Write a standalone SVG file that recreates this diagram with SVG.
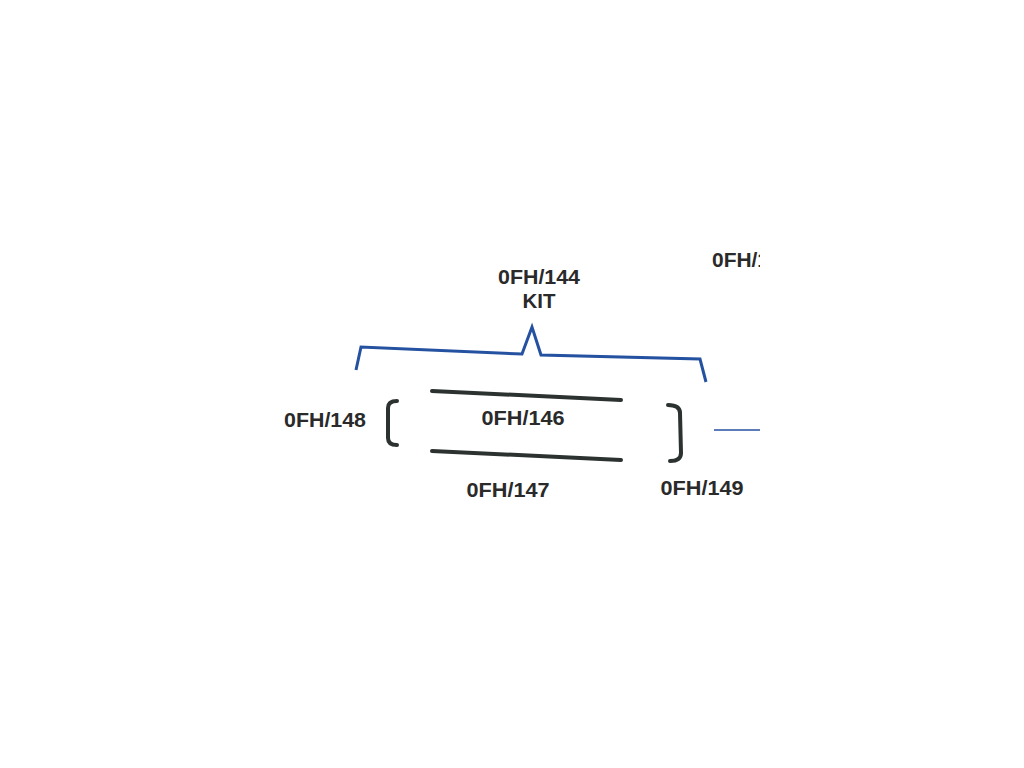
<svg xmlns="http://www.w3.org/2000/svg" width="1024" height="768" viewBox="0 0 1024 768">
<style>
.lbl{font-family:"Liberation Sans",Arial,sans-serif;font-weight:bold;font-size:20px;fill:#2a2a2a;text-anchor:middle}
.blue{fill:none;stroke:#2451a0;stroke-width:3;stroke-linejoin:miter}
.part{fill:none;stroke:#2b3230;stroke-width:4;stroke-linecap:round;stroke-linejoin:round}
</style>
<defs><clipPath id="clip"><rect x="0" y="0" width="760" height="768"/></clipPath></defs>
<rect width="1024" height="768" fill="#fff"/>
<g id="kit">
<path class="blue" d="M356,370 L361,347 L522,354 L532,327 L541,355 L700,359 L706,382"/>
<text class="lbl" x="539" y="284" textLength="82" lengthAdjust="spacingAndGlyphs">0FH/144</text>
<text class="lbl" x="539" y="308" textLength="33" lengthAdjust="spacingAndGlyphs">KIT</text>
</g>
<g id="top-right" clip-path="url(#clip)">
<text class="lbl" x="712" y="267" style="text-anchor:start" textLength="57" lengthAdjust="spacingAndGlyphs">0FH/1</text>
<line x1="714" y1="430" x2="762" y2="430" stroke="#2451a0" stroke-width="1.5"/>
</g>
<g id="p148">
<path class="part" d="M397,401 Q388,401 388,408 L388,438 Q388,445 397,445"/>
<text class="lbl" x="325" y="427" textLength="82" lengthAdjust="spacingAndGlyphs">0FH/148</text>
</g>
<g id="p146">
<path class="part" d="M432,391 L621,400"/>
<text class="lbl" x="523" y="425" textLength="83" lengthAdjust="spacingAndGlyphs">0FH/146</text>
</g>
<g id="p147">
<path class="part" d="M432,451 L621,460"/>
<text class="lbl" x="508" y="497" textLength="83" lengthAdjust="spacingAndGlyphs">0FH/147</text>
</g>
<g id="p149">
<path class="part" d="M668,405 Q680,405 680,413 L681,453 Q681,461 670,461"/>
<text class="lbl" x="702" y="495" textLength="83" lengthAdjust="spacingAndGlyphs">0FH/149</text>
</g>
</svg>
